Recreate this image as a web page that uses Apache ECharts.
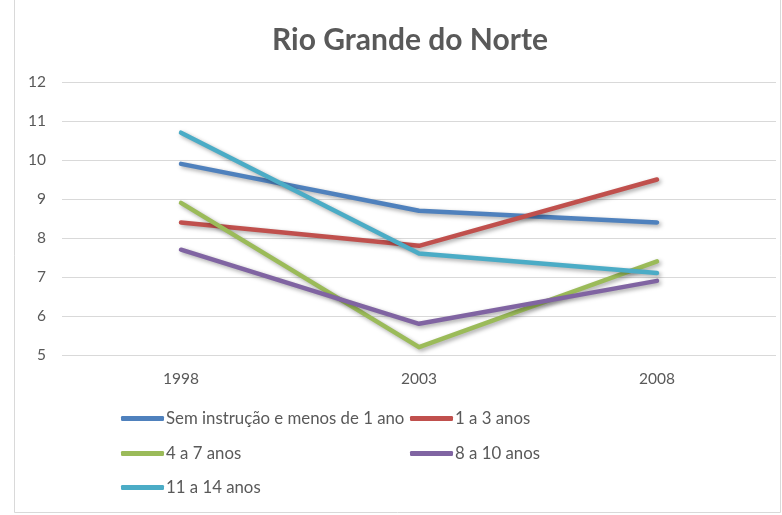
<!DOCTYPE html>
<html>
<head>
<meta charset="utf-8">
<script src="https://cdn.jsdelivr.net/npm/echarts@6/dist/echarts.min.js"></script>
<style>
html,body{margin:0;padding:0;background:#fff;}
#main{width:782px;height:515px;}
</style>
</head>
<body>
<div id="main"></div>
<script>
var anos = ['1998', '2003', '2008'];
var semInstrucao = [9.9, 8.7, 8.4];
var umATres = [8.4, 7.8, 9.5];
var quatroASete = [8.9, 5.2, 7.4];
var oitoADez = [7.7, 5.8, 6.9];
var onzeAQuatorze = [10.7, 7.6, 7.1];
var nomes = ['Sem instrução e menos de 1 ano', '1 a 3 anos', '4 a 7 anos', '8 a 10 anos', '11 a 14 anos'];
var cores = ['#4F81BD', '#C0504D', '#9BBB59', '#8064A2', '#4BACC6'];
var valores = [semInstrucao, umATres, quatroASete, oitoADez, onzeAQuatorze];

// posicao de cada item da legenda (2 colunas)
var legendPos = [[121, 410], [410, 410], [121, 445], [410, 445], [121, 479]];

var fonte = 'Lato, "Open Sans", sans-serif';
var myChart = echarts.init(document.getElementById('main'));

var legends = [];
var series = [];
for (var i = 0; i < nomes.length; i++) {
	legends.push({
		data : [ nomes[i] ],
		left : legendPos[i][0],
		top : legendPos[i][1],
		padding : 0,
		itemWidth : 43,
		itemHeight : 5,
		itemGap : 0,
		icon : 'roundRect',
		selectedMode : false,
		textStyle : {
			fontFamily : fonte,
			fontSize : 16.8,
			color : '#595959',
			padding : [0, 0, 0, -3]
		}
	});
	series.push({
		name : nomes[i],
		type : 'line',
		data : valores[i],
		symbol : 'none',
		smooth : false,
		color : cores[i],
		lineStyle : {
			width : 4.5,
			cap : 'round',
			join : 'round',
			shadowColor : 'rgba(0,0,0,0.35)',
			shadowBlur : 4,
			shadowOffsetX : 2,
			shadowOffsetY : 2
		}
	});
}

var option = {
	backgroundColor : '#fff',
	animation : false,
	title : {
		text : 'Rio Grande do Norte',
		left : 267,
		top : 20,
		textStyle : {
			fontFamily : fonte,
			fontSize : 30,
			fontWeight : 'bold',
			color : '#595959'
		}
	},
	graphic : [ {
		type : 'rect',
		shape : { x : 14.5, y : -2, width : 766, height : 514.5 },
		style : { fill : 'none', stroke : '#d9d9d9', lineWidth : 1 },
		silent : true
	} ],
	legend : legends,
	grid : {
		left : 62,
		right : 6,
		top : 82,
		bottom : 160
	},
	xAxis : {
		type : 'category',
		data : anos,
		boundaryGap : true,
		axisLine : { show : false },
		axisTick : { show : false },
		axisLabel : {
			fontFamily : fonte,
			fontSize : 15.5,
			color : '#595959',
			margin : 16
		}
	},
	yAxis : {
		type : 'value',
		min : 5,
		max : 12,
		interval : 1,
		axisLine : { show : false },
		axisTick : { show : false },
		axisLabel : {
			fontFamily : fonte,
			fontSize : 15.5,
			color : '#595959',
			margin : 16
		},
		splitLine : {
			lineStyle : { color : '#d9d9d9', width : 1 }
		}
	},
	series : series
};
myChart.setOption(option);
</script>
</body>
</html>
